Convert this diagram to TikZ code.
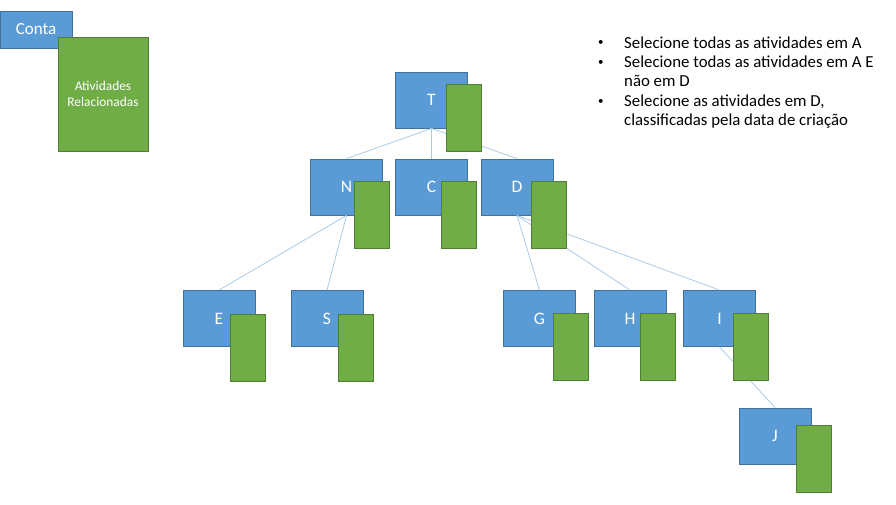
\documentclass[tikz,border=0pt]{standalone}
\usepackage{fontspec}
\setmainfont{Carlito}
\definecolor{bfill}{HTML}{5B9BD5}
\definecolor{bline}{HTML}{41719C}
\definecolor{gfill}{HTML}{70AD47}
\definecolor{gline}{HTML}{507E32}
\definecolor{edgec}{HTML}{A9CBEA}
\newcommand{\mybul}{\raisebox{2.3pt}{\fontsize{11}{19}\selectfont\textbullet}}
\begin{document}
\begin{tikzpicture}[x=1pt,y=-1pt,
  bluebox/.style={draw=bline,fill=bfill,line width=0.9pt,minimum width=72pt,minimum height=56pt,inner sep=0pt,text=white,font=\fontsize{17.5}{20}\selectfont},
  greenbox/.style={draw=gline,fill=gfill,line width=0.9pt,minimum width=35pt,minimum height=67pt,inner sep=0pt,text=white},
  edge/.style={draw=edgec,line width=0.8pt}]
\useasboundingbox (0,0) rectangle (896,504);
% legend
\node[bluebox,minimum width=72pt,minimum height=37pt,font=\fontsize{17}{20}\selectfont] (conta) at (36,29.5) {Conta};
\node[greenbox,minimum width=90pt,minimum height=114pt,align=center,font=\fontsize{13.4}{15.5}\selectfont] (rel) at (103,94) {Atividades\\Relacionadas};
% tree blue boxes
\node[bluebox] (T) at (431.5,100) {T};
\node[bluebox] (N) at (346.5,187) {N};
\node[bluebox] (C) at (431.5,187) {C};
\node[bluebox] (D) at (517,187) {D};
\node[bluebox] (E) at (219,318.5) {E};
\node[bluebox] (S) at (327,318.5) {S};
\node[bluebox] (G) at (539.5,318.5) {G};
\node[bluebox] (H) at (630,318.5) {H};
\node[bluebox] (I) at (719.5,318.5) {I};
\node[bluebox] (J) at (775,436) {J};
% edges
\draw[edge] (T.south) -- (N.north);
\draw[edge] (T.south) -- (C.north);
\draw[edge] (T.south) -- (D.north);
\draw[edge] (N.south) -- (E.north);
\draw[edge] (N.south) -- (S.north);
\draw[edge] (D.south) -- (G.north);
\draw[edge] (D.south) -- (H.north);
\draw[edge] (D.south) -- (I.north);
\draw[edge] (I.south) -- (J.north);
% green boxes
\node[greenbox] (Tg) at (464,118) {};
\node[greenbox] (Ng) at (371.5,214.5) {};
\node[greenbox] (Cg) at (458.5,214.5) {};
\node[greenbox] (Dg) at (549,214.5) {};
\node[greenbox] (Eg) at (247.5,347.5) {};
\node[greenbox] (Sg) at (355.5,347.5) {};
\node[greenbox] (Gg) at (570.5,347) {};
\node[greenbox] (Hg) at (658,347) {};
\node[greenbox] (Ig) at (750.5,347) {};
\node[greenbox] (Jg) at (814,459) {};
% bullets
\node[anchor=north west,inner sep=0pt,font=\fontsize{16.8}{19}\selectfont] (notes) at (598,34.5) {%
\begin{tabular}{@{}p{26pt}@{}l@{}}
\mybul & Selecione todas as atividades em A\\[0.8pt]
\mybul & Selecione todas as atividades em A E\\
 & não em D\\[0.8pt]
\mybul & Selecione as atividades em D,\\
 & classificadas pela data de criação
\end{tabular}};
\end{tikzpicture}
\end{document}
